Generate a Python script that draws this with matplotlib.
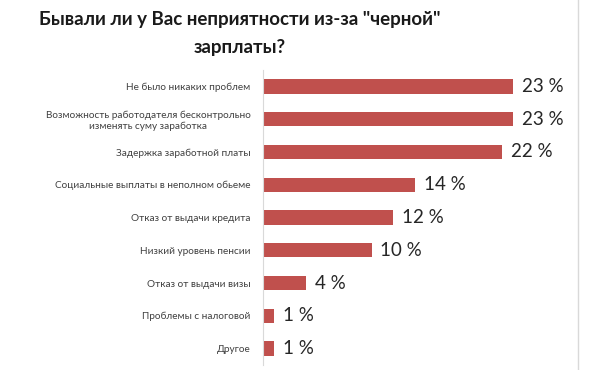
import matplotlib.pyplot as plt
from matplotlib.lines import Line2D

plt.rcParams['font.family'] = ['Lato', 'DejaVu Sans']

categories = [
    "Не было никаких проблем",
    "Возможность работодателя бесконтрольно\nизменять суму заработка",
    "Задержка заработной платы",
    "Социальные выплаты в неполном обьеме",
    "Отказ от выдачи кредита",
    "Низкий уровень пенсии",
    "Отказ от выдачи визы",
    "Проблемы с налоговой",
    "Другое",
]
values = [23, 23, 22, 14, 12, 10, 4, 1, 1]

fig = plt.figure(figsize=(6, 3.7), dpi=100)
ax = fig.add_axes([263 / 600, 5 / 370, 315 / 600, 295 / 370])

y = list(range(len(categories)))
ax.barh(y, values, height=0.44, color="#C0504D")
for yi, v in zip(y, values):
    ax.text(v + 0.8, yi, f"{v} %", va="center", ha="left", fontsize=13.5, color="#262626")

ax.set_xlim(0, 29)
ax.set_ylim(8.5, -0.5)
ax.set_yticks(y)
ax.set_yticklabels(categories, fontsize=7.2, color="#404040", ha="right",
                   multialignment="center")
ax.tick_params(axis="y", length=0, pad=9)
ax.set_xticks([])
for s in ["top", "bottom", "right"]:
    ax.spines[s].set_visible(False)
ax.spines["left"].set_color("#d9d9d9")

fig.add_artist(Line2D([578 / 600, 578 / 600], [0, 1], color="#d9d9d9", lw=1))

fig.text(0.40, 0.91, 'Бывали ли у Вас неприятности из-за "черной"\nзарплаты?',
         ha="center", va="center", fontsize=13.5, fontweight="bold", color="#1a1a1a",
         linespacing=1.75)

fig.savefig("out.png")
